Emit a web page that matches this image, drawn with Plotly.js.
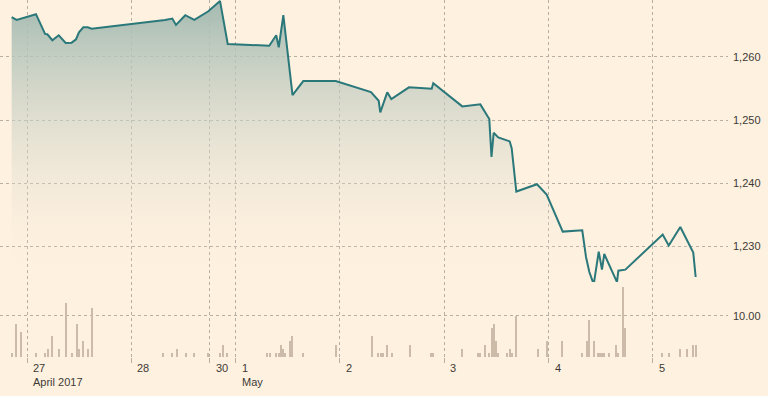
<!DOCTYPE html>
<html>
<head>
<meta charset="utf-8">
<script src="https://cdn.plot.ly/plotly-3.0.1.min.js"></script>
<style>
html,body{margin:0;padding:0;background:#fff1e0;}
#chart{width:768px;height:396px;}
</style>
</head>
<body>
<div id="chart"></div>
<script>
// x positions are in trading-day units (0 = 27 April)
const priceX = [-0.147,-0.099,0.086,0.173,0.195,0.243,0.304,0.371,0.428,0.470,0.498,0.540,0.582,0.620,
  1.323,1.393,1.428,1.517,1.604,1.738,1.850,1.924,2.322,2.389,2.413,2.457,2.545,2.648,2.959,
  3.297,3.371,3.386,3.453,3.492,3.661,3.879,3.894,4.172,4.345,4.431,4.452,4.473,4.517,4.627,4.646,
  4.690,4.888,4.981,5.135,5.322,5.358,5.390,5.432,5.480,5.511,5.533,5.655,5.668,5.735,
  6.093,6.151,6.262,6.386,6.409];
const priceY = [1266.30,1265.87,1266.78,1263.65,1263.60,1262.65,1263.44,1262.22,1262.27,1262.81,1263.92,1264.71,1264.71,1264.49,
  1265.87,1266.08,1265.08,1266.62,1265.87,1267.25,1268.89,1262.06,1261.79,1263.44,1261.54,1266.63,1253.97,1256.19,1256.19,
  1254.44,1253.06,1251.22,1254.40,1253.33,1255.19,1254.97,1255.83,1252.17,1252.49,1250.16,1244.17,1247.98,1247.25,1246.62,1245.51,
  1238.68,1239.84,1238.21,1232.33,1232.54,1228.30,1225.92,1223.97,1229.16,1226.30,1228.78,1224.33,1226.14,1226.30,
  1231.86,1230.11,1233.06,1229.00,1225.13];

const volX = [-0.147,-0.108,-0.060,0.083,0.170,0.198,0.237,0.304,0.371,0.428,0.476,0.496,0.534,0.582,0.620,
  1.301,1.387,1.435,1.521,1.598,1.732,1.847,1.876,1.914,
  2.297,2.326,2.384,2.413,2.432,2.451,2.470,2.518,2.537,2.643,2.959,
  3.304,3.361,3.390,3.409,3.448,3.496,3.668,3.869,3.889,
  4.166,4.320,4.339,4.387,4.425,4.454,4.473,4.492,4.511,4.598,4.627,4.646,4.684,4.895,4.981,
  5.125,5.317,5.365,5.384,5.432,5.470,5.489,5.508,5.528,5.576,5.643,5.662,5.710,5.729,
  6.083,6.150,6.256,6.323,6.381,6.409];
const volY = [1,8,6,1,1,2,5,2,13,1,8,2,4,2,12,
  1,1,2,1,1,1,1,3,1,
  1,1,1,1,3,2,1,4,5,1,3,
  5,1,1,1,3,1,3,1,1,
  2,1,1,3,1,7,8,4,1,1,2,1,10,2,4,
  4,1,4,9,4,1,1,1,1,1,3,1,17,7,
  1,1,2,2,3,3];

const tickVals = [0,1,1.75,2,3,4,5,6];
const tickText = ['27','28','30','1','2','3','4','5'];
const monthVals = [0,2];
const monthText = ['April 2017','May'];
const priceTicks = [1230,1240,1250,1260];
const volTicks = [10];

const bg = '#fff1e0';
const gridCol = '#b7aea4';
const labelFont = {family:'Liberation Sans, Arial, sans-serif', size:11, color:'#3d3a36'};

const traces = [
  {
    type:'scatter', mode:'lines', x:priceX, y:priceY, xaxis:'x', yaxis:'y',
    line:{color:'#2a787a', width:2},
    fill:'tozeroy',
    fillgradient:{type:'vertical', start:1223.8, stop:1269.0,
      colorscale:[[0,'rgba(255,241,224,0)'],[1,'rgba(163,186,177,1)']]},
    hoverinfo:'skip'
  },
  {
    type:'bar', x:volX, y:volY, xaxis:'x', yaxis:'y2',
    width:0.019, marker:{color:'#ccbba8', line:{width:0}},
    hoverinfo:'skip'
  }
];

const annotations = [];
tickVals.forEach((v,i)=>annotations.push({
  x:v, xref:'x', y:-0.031, yref:'paper', text:tickText[i], showarrow:false,
  xanchor:'left', yanchor:'middle', xshift:4, font:labelFont
}));
monthVals.forEach((v,i)=>annotations.push({
  x:v, xref:'x', y:-0.070, yref:'paper', text:monthText[i], showarrow:false,
  xanchor:'left', yanchor:'middle', xshift:4, font:labelFont
}));

const layout = {
  width:768, height:396,
  margin:{l:0, r:40, t:0, b:39},
  paper_bgcolor:bg, plot_bgcolor:bg,
  showlegend:false,
  bargap:0,
  xaxis:{
    range:[-0.2588, 6.719], anchor:'y2',
    tickvals:tickVals, showticklabels:false,
    ticks:'outside', ticklen:5, tickcolor:gridCol, tickwidth:1,
    showgrid:true, gridcolor:gridCol, griddash:'dot', gridwidth:1,
    zeroline:false, showline:false, fixedrange:true
  },
  yaxis:{
    domain:[0.1597,1], anchor:'x', side:'right',
    range:[1221.49, 1269.03],
    tickvals:priceTicks, tickformat:',d',
    showgrid:true, gridcolor:gridCol, griddash:'dot', gridwidth:1,
    zeroline:false, showline:false, ticks:'',
    ticklabelstandoff:4,
    tickfont:labelFont, fixedrange:true
  },
  yaxis2:{
    domain:[0,0.21], anchor:'x', side:'right',
    range:[0,18.2],
    tickvals:volTicks, tickformat:'.2f',
    showgrid:true, gridcolor:gridCol, griddash:'dot', gridwidth:1,
    zeroline:false, showline:false, ticks:'',
    ticklabelstandoff:4,
    tickfont:labelFont, fixedrange:true
  },
  annotations:annotations
};

Plotly.newPlot('chart', traces, layout, {displayModeBar:false, staticPlot:true});
</script>
</body>
</html>
